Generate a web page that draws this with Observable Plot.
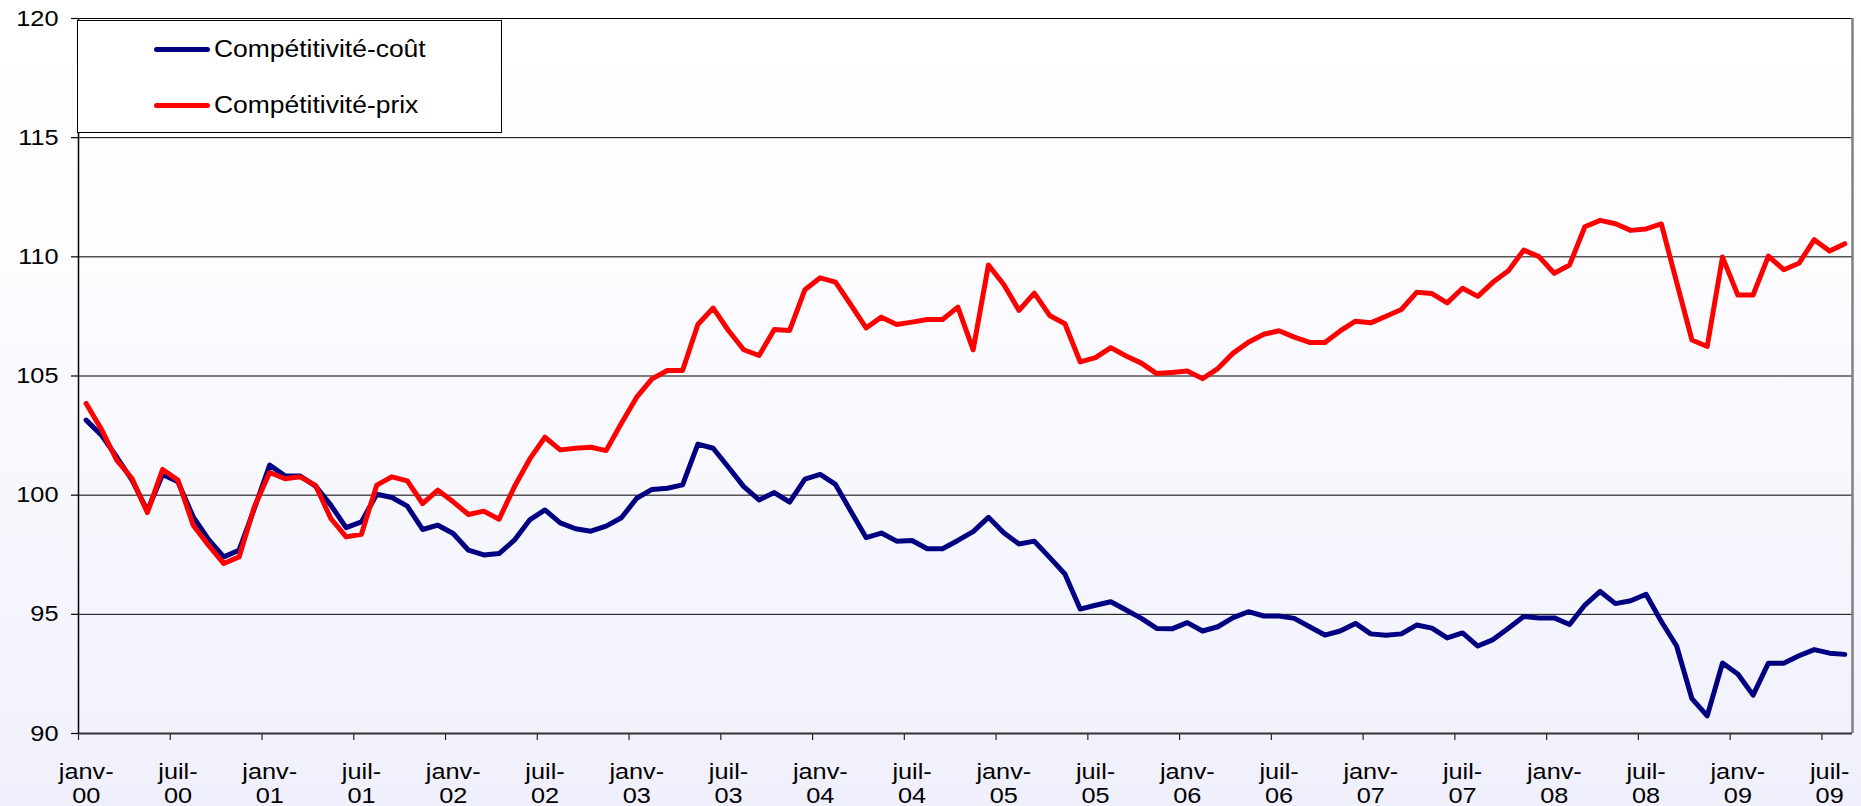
<!DOCTYPE html>
<html>
<head>
<meta charset="utf-8">
<script src="https://cdn.jsdelivr.net/npm/d3@7"></script>
<script src="https://cdn.jsdelivr.net/npm/@observablehq/plot@0.6"></script>
<style>
html, body { margin: 0; padding: 0; }
body {
  width: 1861px; height: 806px; overflow: hidden; position: relative;
  background: linear-gradient(to bottom, #ffffff 0%, #fcfcff 35%, #eff0fb 100%);
  font-family: "Liberation Sans", Arial, sans-serif;
}
#chart { position: absolute; left: 0; top: 0; }
#legend {
  position: absolute; left: 77px; top: 20px; width: 425px; height: 113px;
  border: 1px solid #000; background: #ffffff; box-sizing: border-box;
}
.row { position: absolute; left: 0; height: 30px; width: 100%; }
.sw { position: absolute; left: 76px; top: 12.5px; width: 56px; height: 5px; border-radius: 3px; }
.lbl {
  position: absolute; left: 136px; top: 0; height: 30px; line-height: 30px;
  font-size: 23px; color: #000; white-space: nowrap;
  transform: scaleX(1.15); transform-origin: left center;
}
</style>
</head>
<body>
<div id="chart"></div>
<div id="legend">
  <div class="row" style="top:13px"><div class="sw" id="sw1"></div><div class="lbl" id="lb1"></div></div>
  <div class="row" style="top:69px"><div class="sw" id="sw2"></div><div class="lbl" id="lb2"></div></div>
</div>
<script>
// Series names and colours
const seriesNames = ["Compétitivité-coût", "Compétitivité-prix"];
const seriesColors = ["#000080", "#ff0000"];

// Monthly values, janv-00 .. août-09
const cost = [
  103.15, 102.52, 101.60, 100.63, 99.35, 100.87, 100.56, 99.09, 98.14, 97.41, 97.69, 99.44,
  101.26, 100.81, 100.80, 100.38, 99.58, 98.64, 98.88, 100.04, 99.90, 99.54, 98.56, 98.74,
  98.39, 97.69, 97.49, 97.55, 98.11, 98.96, 99.38, 98.84, 98.59, 98.49, 98.70, 99.05,
  99.87, 100.24, 100.29, 100.43, 102.14, 101.97, 101.17, 100.36, 99.80, 100.11, 99.71, 100.67,
  100.87, 100.45, 99.33, 98.22, 98.41, 98.07, 98.10, 97.75, 97.75, 98.10, 98.47, 99.07,
  98.42, 97.95, 98.07, 97.39, 96.69, 95.22, 95.38, 95.53, 95.18, 94.83, 94.41, 94.39,
  94.65, 94.30, 94.48, 94.86, 95.11, 94.93, 94.93, 94.83, 94.48, 94.13, 94.30, 94.62,
  94.18, 94.12, 94.18, 94.55, 94.42, 94.01, 94.22, 93.67, 93.94, 94.42, 94.91, 94.85,
  94.85, 94.57, 95.39, 95.96, 95.45, 95.57, 95.84, 94.70, 93.67, 91.46, 90.74, 92.96,
  92.50, 91.61, 92.95, 92.95, 93.26, 93.52, 93.37, 93.32
];
const price = [
  103.85, 102.76, 101.47, 100.70, 99.27, 101.08, 100.63, 98.74, 97.90, 97.13, 97.41, 99.51,
  100.95, 100.69, 100.77, 100.41, 99.02, 98.25, 98.36, 100.42, 100.77, 100.60, 99.65, 100.21,
  99.72, 99.19, 99.33, 98.99, 100.35, 101.51, 102.43, 101.90, 101.97, 102.01, 101.87, 103.02,
  104.11, 104.88, 105.23, 105.23, 107.16, 107.85, 106.91, 106.10, 105.86, 106.95, 106.91, 108.62,
  109.12, 108.94, 107.99, 107.02, 107.47, 107.16, 107.26, 107.37, 107.37, 107.89, 106.10, 109.66,
  108.84, 107.75, 108.48, 107.54, 107.19, 105.59, 105.77, 106.19, 105.84, 105.54, 105.10, 105.15,
  105.21, 104.89, 105.31, 105.96, 106.42, 106.75, 106.90, 106.63, 106.41, 106.41, 106.89, 107.30,
  107.23, 107.51, 107.79, 108.51, 108.46, 108.07, 108.68, 108.34, 108.94, 109.42, 110.28, 110.01,
  109.31, 109.66, 111.26, 111.53, 111.39, 111.11, 111.17, 111.38, 108.94, 106.51, 106.24, 109.99,
  108.40, 108.40, 110.03, 109.46, 109.73, 110.72, 110.24, 110.55
];

// Category-axis labels (one every 6 months)
const tickLabels = [
  "janv-\n00", "juil-\n00", "janv-\n01", "juil-\n01", "janv-\n02", "juil-\n02",
  "janv-\n03", "juil-\n03", "janv-\n04", "juil-\n04", "janv-\n05", "juil-\n05",
  "janv-\n06", "juil-\n06", "janv-\n07", "juil-\n07", "janv-\n08", "juil-\n08",
  "janv-\n09", "juil-\n09"
];
const yTicks = [90, 95, 100, 105, 110, 115, 120];
const labelStep = 6;

const n = cost.length;
const data = cost.map((v, i) => ({i, cost: v, price: price[i]}));
const boundaries = tickLabels.map((_, k) => k * labelStep);
const gridVals = yTicks.slice(1, -1);

const chart = Plot.plot({
  width: 1861, height: 806,
  marginLeft: 78, marginRight: 9, marginTop: 18, marginBottom: 73,
  style: {background: "transparent", fontFamily: "'Liberation Sans', Arial, sans-serif", fontSize: "22px", color: "#000", overflow: "visible"},
  x: {domain: [0, n], axis: null},
  y: {domain: [yTicks[0], yTicks[yTicks.length - 1]], axis: null},
  marks: [
    Plot.ruleY(gridVals, {stroke: "#000", strokeWidth: 1}),
    Plot.ruleY([yTicks[yTicks.length - 1]], {stroke: "#000", strokeWidth: 1}),
    Plot.ruleX([n], {stroke: "#808080", strokeWidth: 2.5}),
    Plot.axisY({ticks: yTicks, tickSize: 7, tickPadding: 13, fontSize: 22, stroke: "#000", strokeWidth: 1.2}),
    Plot.axisX({ticks: boundaries, tickSize: 7, tickFormat: () => "", stroke: "#222", strokeWidth: 1.2}),
    Plot.text(tickLabels, {x: (d, k) => k * labelStep + 0.5, frameAnchor: "bottom", lineAnchor: "top", dy: 28.5, lineHeight: 1.09, fontSize: 22, fill: "#000"}),
    Plot.lineY(data, {x: d => d.i + 0.5, y: "cost", stroke: seriesColors[0], strokeWidth: 5}),
    Plot.lineY(data, {x: d => d.i + 0.5, y: "price", stroke: seriesColors[1], strokeWidth: 5}),
    Plot.ruleX([0], {stroke: "#000", strokeWidth: 1.5}),
    Plot.ruleY([yTicks[0]], {stroke: "#333", strokeWidth: 2})
  ]
});
document.getElementById("chart").append(chart);

// Slight horizontal stretch of the text, as in the reference rendering
const stretch = 1.15;
chart.querySelectorAll("text").forEach(t => {
  if (!t.textContent) return;
  const b = t.getBBox();
  if (!(b.width > 0)) return;
  const anchor = getComputedStyle(t).textAnchor;
  const ax = anchor === "end" ? b.x + b.width : anchor === "middle" ? b.x + b.width / 2 : b.x;
  const prev = t.getAttribute("transform") || "";
  t.setAttribute("transform", `${prev} translate(${ax},0) scale(${stretch},1) translate(${-ax},0)`.trim());
});

// Legend
document.getElementById("sw1").style.background = seriesColors[0];
document.getElementById("sw2").style.background = seriesColors[1];
document.getElementById("lb1").textContent = seriesNames[0];
document.getElementById("lb2").textContent = seriesNames[1];
</script>
</body>
</html>
